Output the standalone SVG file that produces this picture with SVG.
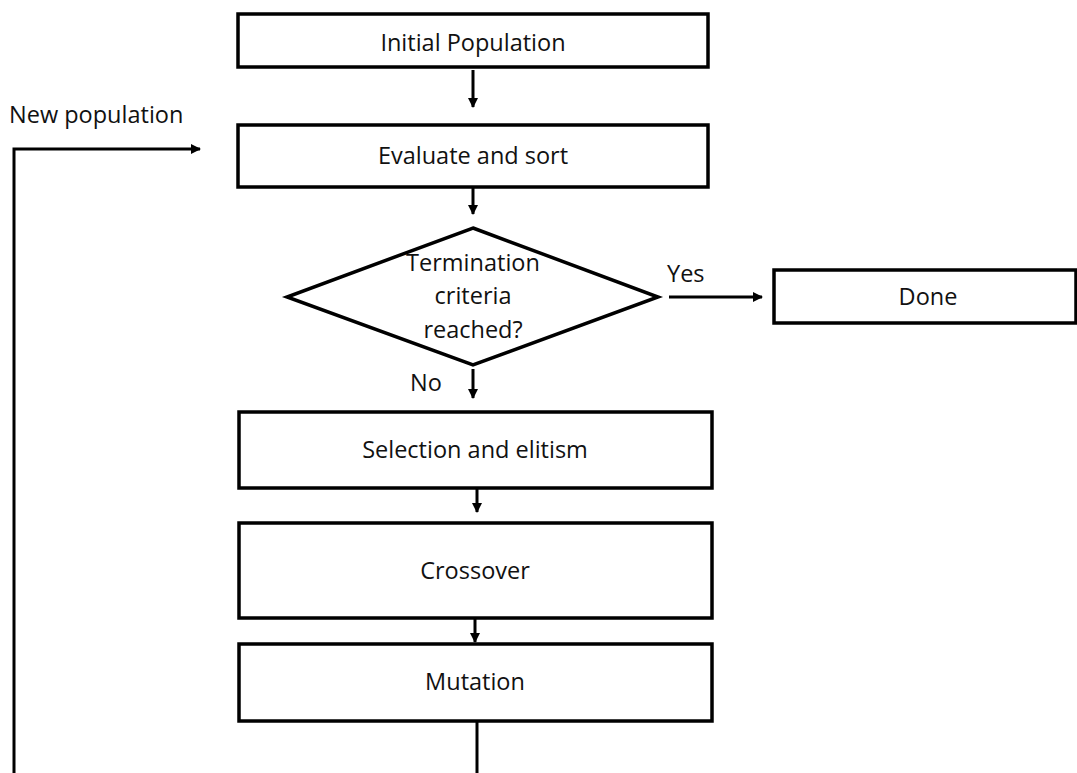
<svg xmlns="http://www.w3.org/2000/svg" width="1077" height="773" viewBox="0 0 1077 773">
<defs>
<style>
.box{fill:#fff;stroke:#000;stroke-width:3.5}
.ln{fill:none;stroke:#000;stroke-width:3}
.t{font-family:"Open Sans","Noto Sans",sans-serif;font-size:23.5px;fill:#111;text-anchor:middle}
.l{font-family:"Open Sans","Noto Sans",sans-serif;font-size:23.5px;fill:#111}
</style>
<marker id="ah" viewBox="0 0 10 10" refX="9" refY="5" markerWidth="10" markerHeight="10" markerUnits="userSpaceOnUse" orient="auto">
<path d="M0,0 L10,5 L0,10 z" fill="#000"/>
</marker>
</defs>
<rect width="1077" height="773" fill="#fff"/>
<g id="connectors">
<line class="ln" x1="473" y1="70" x2="473" y2="107" marker-end="url(#ah)"/>
<line class="ln" x1="473" y1="187" x2="473" y2="214" marker-end="url(#ah)"/>
<line class="ln" x1="669" y1="297" x2="762" y2="297" marker-end="url(#ah)"/>
<line class="ln" x1="473" y1="369" x2="473" y2="398" marker-end="url(#ah)"/>
<line class="ln" x1="477" y1="488" x2="477" y2="512" marker-end="url(#ah)"/>
<line class="ln" x1="475" y1="618" x2="475" y2="642" marker-end="url(#ah)"/>
<polyline class="ln" points="477,721 477,773"/>
<polyline class="ln" points="14,773 14,149 200,149" marker-end="url(#ah)"/>
<text class="l" x="667" y="282">Yes</text>
<text class="l" x="410" y="391">No</text>
<text class="l" x="9" y="123">New population</text>
</g>
<g id="n-initial">
<rect class="box" x="238" y="14" width="470" height="53"/>
<text class="t" x="473" y="51">Initial Population</text>
</g>
<g id="n-evaluate">
<rect class="box" x="238" y="125" width="470" height="62"/>
<text class="t" x="473" y="164">Evaluate and sort</text>
</g>
<g id="n-termination">
<polygon class="box" points="473,228 658,297 473,365 287,297"/>
<text class="t" x="473" y="271">Termination</text>
<text class="t" x="473" y="304">criteria</text>
<text class="t" x="473" y="338">reached?</text>
</g>
<g id="n-done">
<rect class="box" x="774" y="270" width="302" height="53"/>
<text class="t" x="928" y="305">Done</text>
</g>
<g id="n-selection">
<rect class="box" x="239" y="412" width="473" height="76"/>
<text class="t" x="475" y="458">Selection and elitism</text>
</g>
<g id="n-crossover">
<rect class="box" x="239" y="523" width="473" height="95"/>
<text class="t" x="475" y="579">Crossover</text>
</g>
<g id="n-mutation">
<rect class="box" x="239" y="644" width="473" height="77"/>
<text class="t" x="475" y="690">Mutation</text>
</g>
</svg>
